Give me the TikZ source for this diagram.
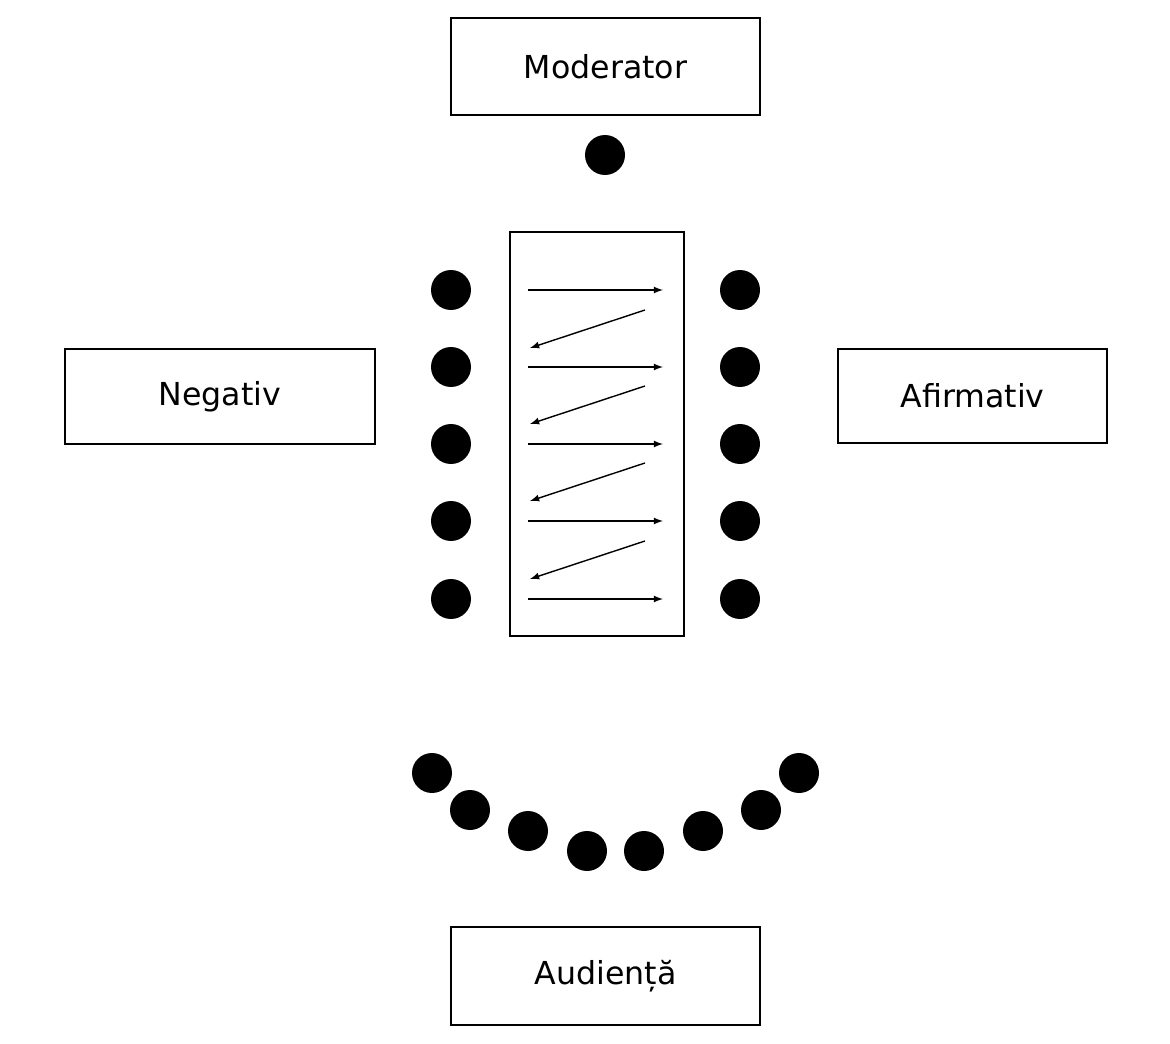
\documentclass[tikz,border=0pt]{standalone}
\usepackage{fontspec}
\setmainfont{DejaVu Sans}
\begin{document}
\begin{tikzpicture}[x=0.02cm,y=-0.02cm,
  box/.style={draw,line width=1pt,inner sep=0pt,font=\fontsize{18}{20}\selectfont},
  dot/.style={circle,fill=black,inner sep=0pt,minimum size=0.8cm},
  arr/.style={-latex,line width=0.8pt}]
\useasboundingbox (0,0) rectangle (1170,1044);
\node[box,minimum width=6.18cm,minimum height=1.94cm] (mod) at (605.5,66.5) {Moderator};
\node[box,minimum width=6.2cm,minimum height=1.9cm] (neg) at (220,396.5) {Negativ};
\node[box,minimum width=5.38cm,minimum height=1.88cm] (afi) at (972.5,396) {Afirmativ};
\node[box,minimum width=6.18cm,minimum height=1.96cm] (aud) at (605.5,976) {Audiență};
\node[draw,line width=1pt,minimum width=3.48cm,minimum height=8.08cm,inner sep=0pt] (mid) at (597,434) {};
\node[dot] (m) at (605,155) {};
\foreach \i/\y in {1/290,2/367,3/444,4/521,5/599}{
  \node[dot] (l\i) at (451,\y) {};
  \node[dot] (r\i) at (740,\y) {};
  \coordinate (rs\i) at (528,\y);
  \coordinate (re\i) at (663,\y);
  \draw[arr] (rs\i) -- (re\i);
}
\foreach \i/\y in {1/310,2/386,3/463,4/541}{
  \coordinate (ls\i) at (645,\y);
  \coordinate (le\i) at (530,\y+38);
  \draw[arr] (ls\i) -- (le\i);
}
\foreach \i/\x/\y in {1/432/773,2/470/810,3/528/831,4/587/851,5/644/851,6/703/831,7/761/810,8/799/773}
  \node[dot] (a\i) at (\x,\y) {};
\end{tikzpicture}
\end{document}
